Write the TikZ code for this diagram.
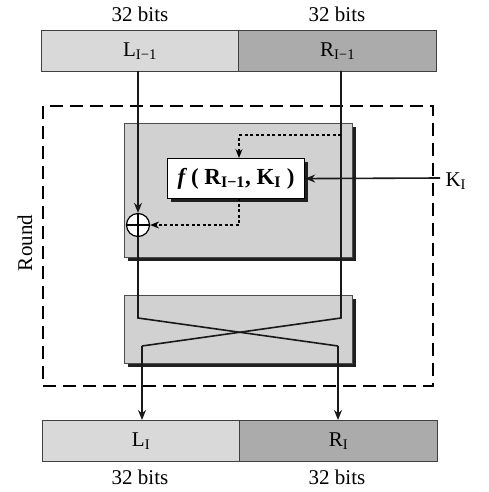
\documentclass[tikz,border=0pt]{standalone}
\usepackage{fontspec}
\setmainfont{Liberation Serif}
\usetikzlibrary{arrows.meta,calc}
\begin{document}
\begin{tikzpicture}[x=1pt,y=-1pt,
  lbl/.style={font=\fontsize{21}{24}\selectfont},
  barL/.style={draw=black!75,line width=1.2pt,fill=black!15,minimum height=41pt,inner sep=0pt,font=\fontsize{21}{24}\selectfont},
  barR/.style={barL,fill=black!33},
  graybox/.style={draw=black!70,line width=1.2pt,fill=black!18,inner sep=0pt},
  wire/.style={line width=1.6pt,draw=black!90},
  arr/.style={wire,-{Stealth[length=10pt,width=8pt]}},
  darr/.style={line width=1.1pt,dash pattern=on 3pt off 2.5pt,-{Stealth[length=9pt,width=7pt]}},
  rdash/.style={line width=1.6pt,dash pattern=on 13pt off 7pt}]
\useasboundingbox (0,0) rectangle (489,492);
% top bar
\node[barL,minimum width=197pt,anchor=north west] (topL) at (41,30) {L\textsubscript{I−1}};
\node[barR,minimum width=198pt,anchor=north west] (topR) at (238,30) {R\textsubscript{I−1}};
\node[lbl] (tl) at (140,14) {32 bits};
\node[lbl] (tr) at (337,14) {32 bits};
% round dashed frame
\node[draw,rdash,minimum width=390pt,minimum height=280pt,anchor=north west] (round) at (42,105) {};
\node[lbl,rotate=90] (roundlbl) at (25,243) {Round};
% upper box with shadow
\fill[black!88] (128,127) rectangle (356,261);
\node[graybox,minimum width=228pt,minimum height=134pt,anchor=north west] (upper) at (124,123) {};
% lower box with shadow
\fill[black!88] (128,299) rectangle (356,367);
\node[graybox,minimum width=228pt,minimum height=68pt,anchor=north west] (lower) at (124,295) {};
% f box
\fill[black!88] (171,162) rectangle (308,202);
\node[draw=black,line width=1.2pt,fill=white,minimum width=137pt,minimum height=40pt,anchor=north west,inner sep=0pt,font=\fontsize{23}{26}\selectfont\bfseries] (fbox) at (167,158) {\textit{f}\,( R\textsubscript{I−1}, K\textsubscript{I} )};
% xor
\node[circle,draw=black,line width=1.2pt,fill=white,minimum size=23pt,inner sep=0pt] (xor) at (138,225) {};
\draw[line width=1.1pt] (xor.north) -- (xor.south) (xor.west) -- (xor.east);
% bottom bar
\node[barL,minimum width=197pt,anchor=north west] (botL) at (42,420) {L\textsubscript{I}};
\node[barR,minimum width=198pt,anchor=north west] (botR) at (239,420) {R\textsubscript{I}};
\node[lbl] (bl) at (140,477) {32 bits};
\node[lbl] (br) at (337,477) {32 bits};
% coordinates
\coordinate (lt) at (138,71);
\coordinate (rt) at (341,71);
\coordinate (lx1) at (138,318);
\coordinate (rx1) at (341,318);
\coordinate (lx2) at (142,346);
\coordinate (rx2) at (338,346);
\coordinate (kin) at (440,178);
\node[lbl,anchor=west] (klbl) at (442,181) {K\textsubscript{I}};
% wires
\draw[arr] (lt) -- (xor.north);
\draw[wire] (xor.south) -- (lx1) -- (rx2);
\draw[arr] (rx2) -- (rx2 |- botR.north);
\draw[wire] (rt) -- (rx1) -- (lx2);
\draw[arr] (lx2) -- (lx2 |- botL.north);
\draw[arr] (kin) -- (fbox.east);
% dotted paths
\coordinate (tap) at (341,135);
\draw[darr] (tap) -- (239,135) -- (239,158);
\draw[darr] (239,198) -- (239,225) -- (xor.east);
\end{tikzpicture}
\end{document}
